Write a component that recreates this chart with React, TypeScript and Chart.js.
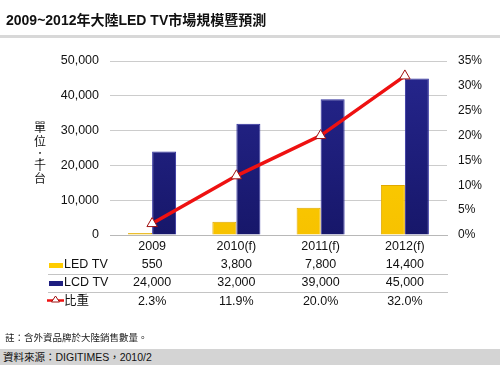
import React, { useEffect, useRef } from 'react';
import { Chart, registerables } from 'chart.js';
Chart.register(...registerables);

const categories = ['2009', '2010(f)', '2011(f)', '2012(f)'];
const ledTV = [550, 3800, 7800, 14400];
const lcdTV = [24000, 32000, 39000, 45000];
const share = [2.3, 11.9, 20.0, 32.0];
const rowLabels = ['LED TV', 'LCD TV', '比重'];
const axisTitleChars = ['單', '位', '：', '千', '台'];

const FONT = '"Liberation Sans", Arial, "Noto Sans CJK TC", sans-serif';
const LED_COLOR = '#FFCC00';
const LCD_COLOR = '#1E1E80';
const LINE_COLOR = '#EE1111';

const fmt = (v: number) => v.toLocaleString('en-US');

const vGrad = (top: string, bottom: string) => (c: any) => {
  const area = c.chart.chartArea;
  if (!area) return top;
  const g = c.chart.ctx.createLinearGradient(0, area.top, 0, area.bottom);
  g.addColorStop(0, top);
  g.addColorStop(1, bottom);
  return g;
};

const tablePlugin = {
  id: 'dataTable',
  afterDraw(chart: any) {
    const ctx = chart.ctx;
    const x = chart.scales.x;
    ctx.save();
    ctx.strokeStyle = '#c4c4c4';
    ctx.lineWidth = 1;
    [274.5, 292.5].forEach((y) => {
      ctx.beginPath();
      ctx.moveTo(48, y);
      ctx.lineTo(448, y);
      ctx.stroke();
    });
    const rows = [
      ledTV.map(fmt),
      lcdTV.map(fmt),
      share.map((v) => v.toFixed(1) + '%'),
    ];
    const ys = [265, 283, 302];
    ctx.font = '12.5px ' + FONT;
    ctx.textBaseline = 'middle';
    rows.forEach((vals, r) => {
      ctx.textAlign = 'left';
      ctx.fillStyle = '#111';
      ctx.fillText(rowLabels[r], 64, ys[r]);
      ctx.textAlign = 'center';
      vals.forEach((s, i) => {
        ctx.fillText(s, x.getPixelForValue(i), ys[r]);
      });
    });
    ctx.fillStyle = LED_COLOR;
    ctx.fillRect(49, 263, 14, 5);
    ctx.fillStyle = LCD_COLOR;
    ctx.fillRect(49, 281, 14, 5);
    ctx.strokeStyle = LINE_COLOR;
    ctx.lineWidth = 2.5;
    ctx.beginPath();
    ctx.moveTo(47, 300.5);
    ctx.lineTo(64, 300.5);
    ctx.stroke();
    ctx.fillStyle = '#fff';
    ctx.strokeStyle = '#A01010';
    ctx.lineWidth = 1;
    ctx.beginPath();
    ctx.moveTo(55.5, 296);
    ctx.lineTo(59.5, 302);
    ctx.lineTo(51.5, 302);
    ctx.closePath();
    ctx.fill();
    ctx.stroke();
    ctx.fillStyle = '#111';
    ctx.font = '12px "Noto Sans CJK TC", sans-serif';
    ctx.textAlign = 'center';
    const cy = [127.5, 141.5, 156, 165.5, 178];
    axisTitleChars.forEach((c, i) => ctx.fillText(c, 40, cy[i]));
    ctx.restore();
  },
};

export default function App() {
  const ref = useRef<HTMLCanvasElement>(null);
  useEffect(() => {
    const chart = new Chart(ref.current!, {
      type: 'bar',
      data: {
        labels: categories,
        datasets: [
          {
            type: 'line',
            label: '比重',
            data: share,
            yAxisID: 'y1',
            borderColor: LINE_COLOR,
            borderWidth: 3.5,
            pointStyle: 'triangle',
            pointRadius: 6,
            pointBackgroundColor: '#fff',
            pointBorderColor: '#A01010',
            pointBorderWidth: 1,
            order: 0,
          } as any,
          {
            type: 'bar',
            label: 'LED TV',
            data: ledTV,
            yAxisID: 'y',
            backgroundColor: vGrad('#FFD400', '#F7C200'),
            borderColor: '#E0A800',
            borderWidth: 1,
            categoryPercentage: 0.57,
            barPercentage: 1,
            order: 1,
          },
          {
            type: 'bar',
            label: 'LCD TV',
            data: lcdTV,
            yAxisID: 'y',
            backgroundColor: vGrad('#26268E', '#17176A'),
            borderColor: '#2F2F9E',
            borderWidth: 1,
            categoryPercentage: 0.57,
            barPercentage: 1,
            order: 1,
          },
        ],
      },
      options: {
        animation: false,
        responsive: false,
        layout: { padding: { top: 61, bottom: 120, left: 0, right: 0 } },
        plugins: { legend: { display: false }, tooltip: { enabled: false } },
        scales: {
          x: {
            grid: { display: false, drawTicks: false },
            border: { display: true, color: '#b8b8b8' },
            ticks: {
              font: { family: FONT, size: 12.5 },
              color: '#111',
              padding: 4,
              maxRotation: 0,
              autoSkip: false,
            },
            afterFit: (s: any) => { s.height = 20; },
          },
          y: {
            position: 'left',
            min: 0,
            max: 50000,
            grid: { color: '#cccccc', drawTicks: false },
            border: { display: false },
            ticks: {
              stepSize: 10000,
              padding: 11,
              color: '#111',
              font: { family: FONT, size: 12.5 },
              callback: (v: any) => fmt(Number(v)),
            },
            afterFit: (s: any) => { s.width = 110; },
          },
          y1: {
            position: 'right',
            min: 0,
            max: 35,
            grid: { display: false, drawTicks: false },
            border: { display: false },
            ticks: {
              stepSize: 5,
              padding: 11,
              color: '#111',
              font: { family: FONT, size: 12 },
              callback: (v: any) => v + '%',
            },
            afterFit: (s: any) => { s.width = 53; },
          },
        },
      },
      plugins: [tablePlugin],
    });
    return () => chart.destroy();
  }, []);

  return (
    <div style={{ position: 'fixed', left: 0, top: 0, width: 500, height: 375, background: '#fff', overflow: 'hidden', fontFamily: FONT }}>
      <canvas ref={ref} width={500} height={375} style={{ position: 'absolute', left: 0, top: 0 }} />
      <div style={{ position: 'absolute', left: 6, top: 11, fontSize: 14, lineHeight: '18px', fontWeight: 'bold', color: '#111', whiteSpace: 'nowrap' }}>
        2009~2012年大陸LED TV市場規模暨預測
      </div>
      <div style={{ position: 'absolute', left: 0, top: 35, width: 500, height: 3, background: '#d8d8d8' }} />
      <div style={{ position: 'absolute', left: 5, top: 333, fontSize: 9.5, lineHeight: '10px', color: '#222', whiteSpace: 'nowrap' }}>
        註：含外資品牌於大陸銷售數量。
      </div>
      <div style={{ position: 'absolute', left: 0, top: 349, width: 500, height: 16, background: '#d4d4d4' }}>
        <div style={{ position: 'absolute', left: 3, top: 0, fontSize: 10.5, lineHeight: '16px', color: '#111', whiteSpace: 'nowrap' }}>
          資料來源：DIGITIMES，2010/2
        </div>
      </div>
    </div>
  );
}
